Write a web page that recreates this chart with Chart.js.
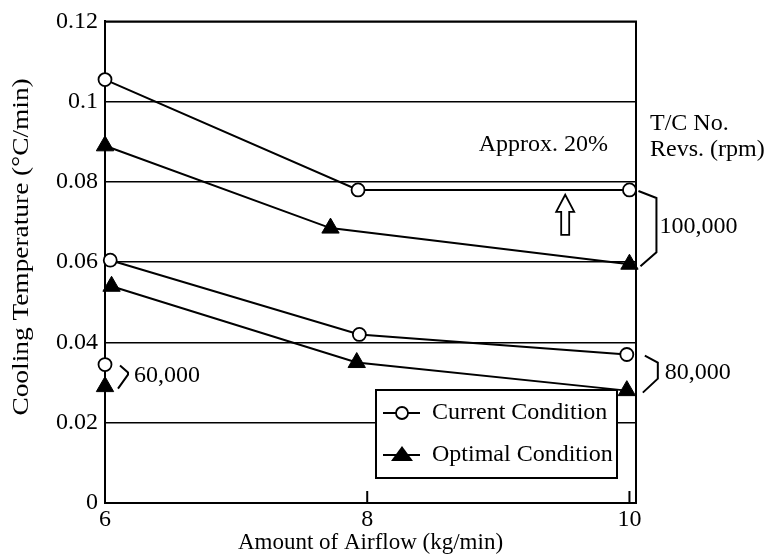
<!DOCTYPE html>
<html>
<head>
<meta charset="utf-8">
<title>Cooling Temperature vs Airflow</title>
<script src="https://cdn.jsdelivr.net/npm/chart.js@4.4.0/dist/chart.umd.min.js"></script>
<style>
  html, body { margin: 0; padding: 0; background: #fff; }
  #wrap { width: 768px; height: 557px; }
</style>
</head>
<body>
<div id="wrap"><canvas id="myChart"></canvas></div>
<script>
// Datos
const xTicks = [6, 8, 10];
const yTicks = [0, 0.02, 0.04, 0.06, 0.08, 0.1, 0.12];

// T/C 100,000 rpm
const current100k = [{ x: 6, y: 0.1055 }, { x: 7.93, y: 0.078 }, { x: 10, y: 0.078 }];
const optimal100k = [{ x: 6, y: 0.089 }, { x: 7.72, y: 0.0685 }, { x: 10, y: 0.0595 }];
// T/C 80,000 rpm
const current80k = [{ x: 6.04, y: 0.0605 }, { x: 7.94, y: 0.042 }, { x: 9.98, y: 0.037 }];
const optimal80k = [{ x: 6.05, y: 0.054 }, { x: 7.92, y: 0.035 }, { x: 9.98, y: 0.028 }];
// T/C 60,000 rpm
const current60k = [{ x: 6, y: 0.0345 }];
const optimal60k = [{ x: 6, y: 0.029 }];

const rpmLabels = ['100,000', '80,000', '60,000'];
const legendLabels = ['Current Condition', 'Optimal Condition'];

const FONT = '"Liberation Serif", "Times New Roman", serif';

function serie(data, tipo) {
    const circulo = tipo === 'current';
    return {
        data: data,
        borderColor: '#000',
        borderWidth: 2,
        pointStyle: circulo ? 'circle' : 'triangle',
        pointRadius: circulo ? 6.5 : 10,
        pointBackgroundColor: circulo ? '#fff' : '#000',
        pointBorderColor: '#000',
        pointBorderWidth: circulo ? 1.8 : 1,
        tension: 0,
        clip: false,
        showLine: true
    };
}

// Anotaciones: llaves, textos, flecha, leyenda y marco
const anotaciones = {
    id: 'anotaciones',
    afterDatasetsDraw(chart) {
        const ctx = chart.ctx;
        const area = chart.chartArea;
        const meta = (i) => chart.getDatasetMeta(i).data;
        ctx.save();
        ctx.strokeStyle = '#000';
        ctx.fillStyle = '#000';
        ctx.lineWidth = 2;

        // marco superior y derecho
        ctx.beginPath();
        ctx.moveTo(area.left, area.top);
        ctx.lineTo(area.right, area.top);
        ctx.lineTo(area.right, area.bottom);
        ctx.stroke();

        // marcas internas del eje x
        const sx = chart.scales.x;
        xTicks.forEach(v => {
            const px = sx.getPixelForValue(v);
            ctx.beginPath();
            ctx.moveTo(px, area.bottom);
            ctx.lineTo(px, area.bottom - 12);
            ctx.stroke();
        });

        ctx.font = '24px ' + FONT;
        ctx.textBaseline = 'middle';
        ctx.textAlign = 'left';

        // llaves de rpm
        function llave(a, b, d1, d2, w, etiqueta, dx) {
            ctx.beginPath();
            ctx.moveTo(a.x + d1, a.y + 1);
            ctx.lineTo(a.x + w, a.y + 8);
            ctx.lineTo(a.x + w, b.y - 12);
            ctx.lineTo(b.x + d2, b.y + 2);
            ctx.stroke();
            ctx.fillText(etiqueta, a.x + w + dx, (a.y + b.y) / 2);
        }
        llave(meta(0)[2], meta(1)[2], 9, 11, 27, rpmLabels[0], 3);
        llave(meta(2)[2], meta(3)[2], 18, 16, 31, rpmLabels[1], 7);
        llave(meta(4)[0], meta(5)[0], 15, 13, 23, rpmLabels[2], 6);

        // textos
        const sy = chart.scales.y;
        ctx.fillText('Approx. 20%', sx.getPixelForValue(8.85), sy.getPixelForValue(0.0892));
        ctx.fillText('T/C No.', area.right + 14, sy.getPixelForValue(0.0946));
        ctx.fillText('Revs. (rpm)', area.right + 14, sy.getPixelForValue(0.0881));

        // flecha hueca hacia arriba
        const ax = sx.getPixelForValue(9.51);
        const ay1 = sy.getPixelForValue(0.0768);
        const ay2 = sy.getPixelForValue(0.0668);
        ctx.lineWidth = 1.8;
        ctx.beginPath();
        ctx.moveTo(ax, ay1);
        ctx.lineTo(ax + 9, ay1 + 17);
        ctx.lineTo(ax + 4, ay1 + 17);
        ctx.lineTo(ax + 4, ay2);
        ctx.lineTo(ax - 4, ay2);
        ctx.lineTo(ax - 4, ay1 + 17);
        ctx.lineTo(ax - 9, ay1 + 17);
        ctx.closePath();
        ctx.fillStyle = '#fff';
        ctx.fill();
        ctx.stroke();

        // leyenda
        const lx = area.right - 260, ly = area.bottom - 113, lw = 241, lh = 88;
        ctx.fillStyle = '#fff';
        ctx.fillRect(lx, ly, lw, lh);
        ctx.lineWidth = 2;
        ctx.strokeRect(lx, ly, lw, lh);
        const filas = [ly + 23, ly + 65];
        [0, 1].forEach(i => {
            const y = filas[i];
            ctx.lineWidth = 2;
            ctx.beginPath();
            ctx.moveTo(lx + 7, y);
            ctx.lineTo(lx + 44, y);
            ctx.stroke();
            if (i === 0) {
                ctx.fillStyle = '#fff';
                ctx.beginPath();
                ctx.arc(lx + 26, y, 6, 0, Math.PI * 2);
                ctx.fill();
                ctx.lineWidth = 1.8;
                ctx.stroke();
            } else {
                ctx.fillStyle = '#000';
                ctx.beginPath();
                ctx.moveTo(lx + 26, y - 9);
                ctx.lineTo(lx + 37, y + 6);
                ctx.lineTo(lx + 15, y + 6);
                ctx.closePath();
                ctx.fill();
            }
            ctx.fillStyle = '#000';
            ctx.fillText(legendLabels[i], lx + 56, y);
        });

        // titulo del eje y (algo estirado como en la figura)
        ctx.save();
        ctx.translate(22, sy.getPixelForValue(0.0638));
        ctx.rotate(-Math.PI / 2);
        ctx.scale(1.14, 1);
        ctx.textAlign = 'center';
        ctx.fillText('Cooling Temperature (\u00B0C/min)', 0, 0);
        ctx.restore();

        ctx.restore();
    }
};

const ctx = document.getElementById('myChart').getContext('2d');
const myChart = new Chart(ctx, {
    type: 'scatter',
    data: {
        datasets: [
            serie(current100k, 'current'),
            serie(optimal100k, 'optimal'),
            serie(current80k, 'current'),
            serie(optimal80k, 'optimal'),
            serie(current60k, 'current'),
            serie(optimal60k, 'optimal')
        ]
    },
    options: {
        responsive: true,
        maintainAspectRatio: false,
        animation: false,
        layout: { padding: { top: 12, right: 132, left: 0, bottom: 0 } },
        plugins: {
            legend: { display: false },
            tooltip: { enabled: false }
        },
        scales: {
            x: {
                type: 'linear',
                min: 6,
                max: 10.05,
                afterBuildTicks: (s) => { s.ticks = xTicks.map(v => ({ value: v })); },
                afterFit: (s) => { s.height = 54; },
                grid: { display: false },
                border: { color: '#000', width: 2 },
                ticks: {
                    color: '#000',
                    font: { family: FONT, size: 24 },
                    padding: -6,
                    maxRotation: 0,
                    callback: (v) => String(v)
                },
                title: {
                    display: true,
                    text: 'Amount of Airflow (kg/min)',
                    color: '#000',
                    font: { family: FONT, size: 23 },
                    padding: { top: 4, bottom: 0 }
                }
            },
            y: {
                min: 0,
                max: 0.12,
                afterBuildTicks: (s) => { s.ticks = yTicks.map(v => ({ value: v })); },
                afterFit: (s) => { s.width = 105; },
                grid: { color: '#000', lineWidth: 1.6, drawTicks: false },
                border: { color: '#000', width: 2 },
                ticks: {
                    color: '#000',
                    font: { family: FONT, size: 24 },
                    padding: 7,
                    callback: (v) => String(v)
                }
            }
        }
    },
    plugins: [anotaciones]
});
</script>
</body>
</html>
